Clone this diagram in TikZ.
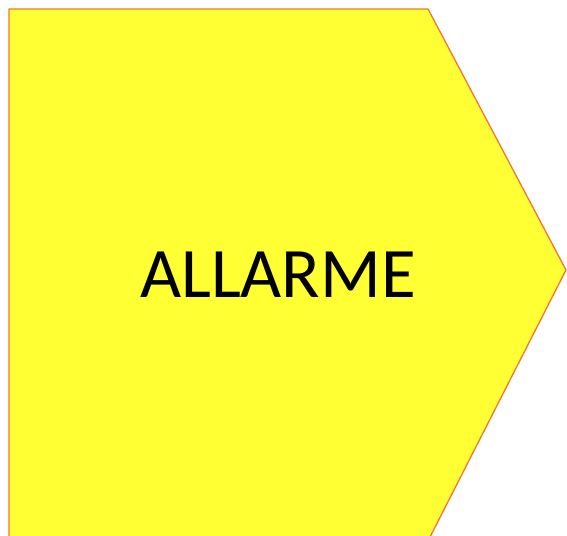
\documentclass[tikz,border=0pt]{standalone}
\usepackage{fontspec}
\setmainfont{Carlito}
\definecolor{fillyel}{HTML}{FFFF33}
\definecolor{edgeor}{HTML}{F07830}
\begin{document}
\begin{tikzpicture}[x=1pt,y=-1pt,
  shapestyle/.style={fill=fillyel,draw=edgeor,line width=1.3pt,line join=miter},
  labelstyle/.style={font=\fontsize{71}{80}\selectfont,text=black,inner sep=0pt}]
\useasboundingbox (0,0) rectangle (567,535);
\begin{scope}
\clip (0,0) rectangle (567,535);
\path[shapestyle] (9,9) -- (428,9) -- (566,270) -- (428,541) -- (9,541) -- cycle;
\end{scope}
\node[labelstyle] (lbl) at (278,275) {ALLARME};
\end{tikzpicture}
\end{document}
